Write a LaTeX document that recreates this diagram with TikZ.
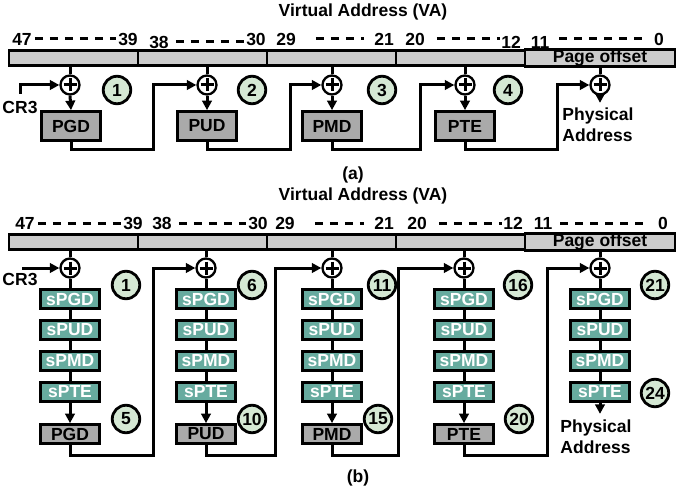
\documentclass[tikz,border=0pt]{standalone}
\usepackage{fontspec}
\setmainfont{Liberation Sans}
\usetikzlibrary{arrows.meta}
\definecolor{barfill}{HTML}{CCCCCC}
\definecolor{boxfill}{HTML}{AAAAAA}
\definecolor{tealfill}{HTML}{67AB9F}
\definecolor{numfill}{HTML}{D5E8D4}
\begin{document}
\begin{tikzpicture}[x=1pt,y=-1pt,
  every node/.style={font=\bfseries\fontsize{17.5}{21}\selectfont, inner sep=0pt},
  seg/.style={draw, line width=2.8pt, fill=barfill, minimum height=15.5pt, inner sep=0pt},
  adder/.style={circle, draw, line width=2.3pt, fill=white, minimum size=19pt,
    path picture={\draw[line width=3pt] ([yshift=6.5pt]path picture bounding box.center) -- ([yshift=-6.5pt]path picture bounding box.center)
      ([xshift=-6.5pt]path picture bounding box.center) -- ([xshift=6.5pt]path picture bounding box.center);}},
  gbox/.style={draw, line width=3.2pt, fill=boxfill, minimum width=59.5pt, minimum height=28.5pt},
  gboxb/.style={gbox, minimum height=18.5pt},
  tbox/.style={draw, line width=3.2pt, fill=tealfill, text=white, minimum width=59.5pt, minimum height=18.5pt},
  num/.style={circle, draw, line width=2.8pt, fill=numfill, minimum size=27.5pt},
  wire/.style={line width=3pt},
  arr/.style={wire, -{Triangle[length=9.5pt,width=9.5pt]}},
  dashl/.style={line width=3pt, dash pattern=on 8pt off 7pt},
]
\useasboundingbox (0,0) rectangle (683,492);

% ================= (a) =================
\node (vaa) at (363,12) {Virtual Address (VA)};
\node (a47) at (22,39) {47};
\node (a39) at (128,39) {39};
\node (a38) at (159,42) {38};
\node (a30) at (256,39) {30};
\node (a29) at (286,39) {29};
\node (a21) at (384,39) {21};
\node (a20) at (415,39) {20};
\node (a12) at (511,42) {12};
\node (a11) at (540,42) {11};
\node (a0)  at (659,39) {0};
\draw[dashl] ([xshift=3pt]a47.east) -- ([xshift=-2pt]a39.west);
\draw[dashl] ([xshift=7pt]a38.east) -- ([xshift=-2pt]a30.west |- a38.east);
\draw[dashl] ([xshift=20pt]a29.east) -- ([xshift=-10pt]a21.west);
\draw[dashl] ([xshift=12pt]a20.east) -- ([xshift=-1pt]a12.west |- a20.east);
\draw[dashl] ([xshift=10pt]a11.east |- a0.west) -- ([xshift=-12pt]a0.west);

\node[seg, minimum width=129pt] (sa1) at (73.5,58) {};
\node[seg, minimum width=129pt] (sa2) at (202.5,58) {};
\node[seg, minimum width=129pt] (sa3) at (331.5,58) {};
\node[seg, minimum width=129pt] (sa4) at (460.5,58) {};
\node[seg, minimum width=150pt] (sa5) at (600,58) {Page offset};

\foreach \c/\x in {1/70,2/207,3/332,4/465,5/600}{
  \node[adder] (pa\c) at (\x,85) {};
  \draw[wire] (sa\c.south -| pa\c) -- (pa\c.north);
}
\foreach \c/\x/\l in {1/71/PGD,2/207/PUD,3/332/PMD,4/465/PTE}{
  \node[gbox] (ga\c) at (\x,126) {\l};
  \draw[arr] (pa\c.south) -- (ga\c.north);
}
\foreach \c/\n/\kx in {1/2/153,2/3/290,3/4/420,4/5/557}{
  \coordinate (ka\c) at (\kx,150);
  \draw[arr] (ga\c.south) |- (ka\c) |- (pa\n.west);
}
\coordinate (cra) at (20,94);
\draw[arr] (cra) |- (pa1.west);
\node (cr3a) at (20,107) {CR3};

\node[num] (na1) at (117,90) {1};
\node[num] (na2) at (252,90) {2};
\node[num] (na3) at (382,90) {3};
\node[num] (na4) at (508,90) {4};

\node[align=left] (phya) at (598,125) {Physical\\Address};
\draw[arr] (pa5.south) -- ([yshift=5pt]phya.north -| pa5);
\node (capa) at (353,175) {(a)};

% ================= (b) =================
\node (vab) at (363,196) {Virtual Address (VA)};
\node (b47) at (25,223) {47};
\node (b39) at (133,223) {39};
\node (b38) at (162,223) {38};
\node (b30) at (258,223) {30};
\node (b29) at (285,223) {29};
\node (b21) at (384,223) {21};
\node (b20) at (417,223) {20};
\node (b12) at (513,223) {12};
\node (b11) at (543,223) {11};
\node (b0)  at (663,223) {0};
\draw[dashl] ([xshift=3pt]b47.east) -- ([xshift=-2pt]b39.west);
\draw[dashl] ([xshift=7pt]b38.east) -- ([xshift=-2pt]b30.west);
\draw[dashl] ([xshift=20pt]b29.east) -- ([xshift=-10pt]b21.west);
\draw[dashl] ([xshift=12pt]b20.east) -- ([xshift=-1pt]b12.west);
\draw[dashl] ([xshift=8pt]b11.east) -- ([xshift=-12pt]b0.west);

\node[seg, minimum width=129pt] (sb1) at (73.5,242) {};
\node[seg, minimum width=129pt] (sb2) at (202.5,242) {};
\node[seg, minimum width=129pt] (sb3) at (331.5,242) {};
\node[seg, minimum width=129pt] (sb4) at (460.5,242) {};
\node[seg, minimum width=150pt] (sb5) at (600,242) {\raisebox{3pt}{Page offset}};

\foreach \c/\x in {1/70,2/206,3/332,4/464,5/600}{
  \node[adder] (pb\c) at (\x,268) {};
  \draw[wire] (sb\c.south -| pb\c) -- (pb\c.north);
  \node[tbox] (tba\c) at (\x,299) {sPGD};
  \node[tbox] (tbb\c) at (\x,330) {sPUD};
  \node[tbox] (tbc\c) at (\x,361) {sPMD};
  \node[tbox] (tbd\c) at (\x,392) {sPTE};
  \draw[wire] (pb\c.south) -- (tba\c.north)
              (tba\c.south) -- (tbb\c.north)
              (tbb\c.south) -- (tbc\c.north)
              (tbc\c.south) -- (tbd\c.north);
}
\foreach \c/\x/\l in {1/70/PGD,2/206/PUD,3/332/PMD,4/464/PTE}{
  \node[gboxb] (gb\c) at (\x,434) {\l};
  \draw[arr] (tbd\c.south) -- (gb\c.north);
}
\foreach \c/\n/\kx in {1/2/153,2/3/275,3/4/398,4/5/547}{
  \coordinate (kb\c) at (\kx,455);
  \draw[arr] (gb\c.south) |- (kb\c) |- (pb\n.west);
}
\coordinate (crb) at (22,268);
\draw[arr] (crb) -- (pb1.west);
\node (cr3b) at (20,279) {CR3};

\node[num] (nb1)  at (126,285) {1};
\node[num] (nb6)  at (252,285) {6};
\node[num] (nb11) at (382,285) {11};
\node[num] (nb16) at (518,285) {16};
\node[num] (nb21) at (655,285) {21};
\node[num] (nb5)  at (126,419) {5};
\node[num] (nb10) at (252,419) {10};
\node[num] (nb15) at (378,419) {15};
\node[num] (nb20) at (519,419) {20};
\node[num] (nb24) at (655,393) {24};

\node[align=left] (phyb) at (596,437) {Physical\\Address};
\draw[arr] (tbd5.south) -- ([yshift=6pt]phyb.north -| tbd5);
\node (capb) at (358,478) {(b)};
\end{tikzpicture}
\end{document}
